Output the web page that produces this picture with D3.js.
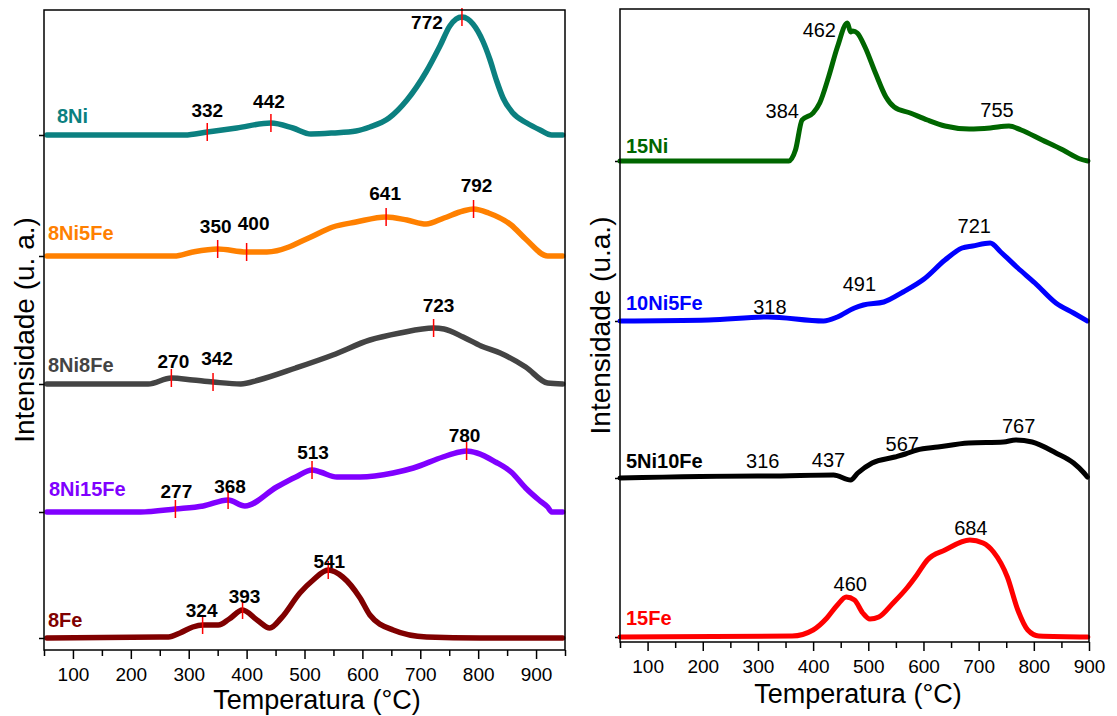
<!DOCTYPE html>
<html>
<head>
<meta charset="utf-8">
<script src="https://cdn.jsdelivr.net/npm/d3@7"></script>
<style>
body { margin: 0; background: #fff; }
text { font-family: "Liberation Sans", Arial, sans-serif; }
</style>
</head>
<body>
<svg id="chart" width="1117" height="716"></svg>
<script>
// TPR profiles, intensity in a.u. above each curve's own baseline
var tempTicks = [100, 200, 300, 400, 500, 600, 700, 800, 900];

var s8Ni = [[55,0],[200,0],[293,0],[332,0.3],[383,0.7],[442,1.2],[480,0.7],[511,0.1],[549,0.2],[589,0.4],[613,0.8],[646,1.7],[677,3.5],[710,6.3],[734,8.9],[751,10.9],[762,11.6],[772,11.8],[782,11.6],[791,11.1],[808,9.4],[820,7.6],[832,5.4],[843,3.7],[860,2.2],[884,1.2],[907,0.5],[927,0],[946,0]];
var s8Ni5Fe = [[55,0],[275,0],[307,0.4],[350,0.7],[400,0.4],[435,0.4],[473,0.9],[492,1.4],[511,1.9],[549,2.9],[589,3.4],[641,3.9],[677,3.6],[710,3.2],[741,3.8],[774,4.5],[792,4.7],[818,4.3],[857,3.1],[882,1.7],[920,0],[946,0]];
var s8Ni8Fe = [[55,0],[230,0],[270,0.6],[307,0.4],[342,0.2],[390,0],[421,0.4],[485,1.6],[549,2.9],[613,4.4],[665,5.1],[723,5.6],[741,5.5],[774,4.7],[805,3.8],[838,3.1],[882,1.7],[920,0.1],[946,0]];
var s8Ni15Fe = [[55,0],[217,0],[277,0.3],[325,0.6],[368,1.2],[397,0.6],[452,2.5],[485,3.5],[513,4.2],[527,4.0],[556,3.5],[596,3.5],[653,3.9],[688,4.4],[739,5.5],[768,6.0],[780,6.1],[798,5.9],[830,5.0],[857,4.0],[882,2.4],[905,1.2],[920,0.5],[927,0],[946,0]];
var s8Fe = [[55,0],[250,0.1],[265,0.1],[285,0.5],[307,1.1],[324,1.3],[351,1.3],[370,1.9],[393,2.8],[418,1.8],[440,1.0],[460,2.0],[492,4.5],[515,5.8],[541,6.8],[566,6.1],[596,4.0],[613,2.3],[653,0.8],[711,0.1],[803,0],[946,0]];

var s15Ni = [[50,0],[356,0],[368,1.1],[380,4.1],[400,4.8],[412,5.8],[428,8.4],[444,11.4],[462,13.8],[468,12.9],[472,13.0],[480,12.8],[494,11.4],[513,8.8],[532,6.4],[547,5.4],[576,4.8],[607,4.1],[639,3.5],[683,3.2],[721,3.3],[755,3.5],[777,3.1],[815,2.1],[853,1.1],[884,0.2],[898,0]];
var s10Ni5Fe = [[50,0],[211,0.1],[318,0.4],[419,0],[444,0.4],[475,1.3],[491,1.6],[528,1.9],[563,2.9],[601,4.2],[639,6.1],[670,7.3],[689,7.5],[721,7.8],[740,6.9],[771,5.3],[802,3.8],[840,1.8],[872,0.8],[897,0]];
var s5Ni10Fe = [[50,0],[299,0.2],[316,0.2],[437,0.3],[468,-0.2],[481,0.5],[507,1.5],[548,2.1],[567,2.4],[588,2.8],[626,3.1],[682,3.5],[745,3.6],[767,3.8],[797,3.6],[840,2.5],[872,1.5],[891,0.5],[897,0.1]];
var s15Fe = [[50,0],[362,0.1],[400,0.7],[425,1.9],[444,3.2],[460,4.0],[475,3.7],[490,2.4],[503,1.8],[519,2.0],[545,3.4],[570,4.9],[588,6.2],[607,7.7],[639,8.7],[684,9.7],[708,9.4],[727,8.5],[752,6.0],[771,2.7],[789,0.7],[809,0.1],[898,0]];

var leftNames = ["8Ni", "8Ni5Fe", "8Ni8Fe", "8Ni15Fe", "8Fe"];
var leftOffsets = [51.5, 39.4, 26.6, 13.8, 1.2];
var leftPeaks = [[332, 442, 772], [350, 400, 641, 792], [270, 342, 723], [277, 368, 513, 780], [324, 393, 541]];

var rightNames = ["15Ni", "10Ni5Fe", "5Ni10Fe", "15Fe"];
var rightOffsets = [48.1, 32.1, 16.4, 0.5];
var rightPeaks = [[384, 462, 755], [318, 491, 721], [316, 437, 567, 767], [460, 684]];

// label nudges [dx, dy] relative to the peak point on the curve
var leftNudges = [
	[[0,-15],[-2,-15],[-35,12]],
	[[-2,-16],[7,-22],[-1,-17],[3,-17]],
	[[2,-10],[4,-17],[5,-16]],
	[[1,-11],[2,-7],[1,-11],[-2,-9]],
	[[-1,-8],[2,-7],[1,-2]]
];
var rightNudges = [
	[[-22,-1],[-28,14],[-12,-9]],
	[[2,-3],[-4,-14],[-16,-10]],
	[[-4,-8],[-5,-8],[-3,-3],[3,-7]],
	[[4,-6],[1,-5]]
];

var svg = d3.select("#chart");

function valueAt(s, t) {
	var i = d3.bisector(function (d) { return d[0]; }).left(s, t);
	if (i <= 0) return s[0][1];
	if (i >= s.length) return s[s.length - 1][1];
	var a = s[i - 1], b = s[i];
	return a[1] + (b[1] - a[1]) * (t - a[0]) / (b[0] - a[0]);
}

function drawPanel(p) {
	var x = d3.scaleLinear().domain(p.xDomain).range([p.left, p.right]);
	var y = d3.scaleLinear().domain(p.yDomain).range([p.bottom, p.top]);
	var g = svg.append("g");

	// x axis, major + minor ticks
	var minors = d3.range(p.xDomain[0], p.xDomain[1] + 1, 100);
	g.append("g")
		.attr("transform", "translate(0," + p.bottom + ")")
		.call(d3.axisBottom(x).tickValues(minors).tickSize(6).tickFormat(""))
		.call(function (a) { a.select(".domain").remove(); })
		.selectAll("line").attr("stroke", "#000").attr("stroke-width", 1.5);
	var ax = g.append("g")
		.attr("transform", "translate(0," + p.bottom + ")")
		.call(d3.axisBottom(x).tickValues(tempTicks).tickSize(9).tickPadding(9).tickFormat(d3.format("d")));
	ax.select(".domain").remove();
	ax.selectAll("line").attr("stroke", "#000").attr("stroke-width", 1.5);
	ax.selectAll("text").attr("font-size", 19).attr("fill", "#000")
		.style("font-family", "'Liberation Sans', Arial, sans-serif");

	// small y ticks at each baseline
	g.append("g")
		.attr("transform", "translate(" + p.left + ",0)")
		.call(d3.axisLeft(y).tickValues(p.offsets).tickSize(5).tickFormat(""))
		.call(function (a) { a.select(".domain").remove(); })
		.selectAll("line").attr("stroke", "#000").attr("stroke-width", 1.5);

	// curves
	var line = d3.line().curve(d3.curveMonotoneX);
	p.series.forEach(function (s, i) {
		line.x(function (d) { return x(d[0]); })
			.y(function (d) { return y(d[1] + p.offsets[i]); });
		g.append("path")
			.attr("d", line(s))
			.attr("fill", "none")
			.attr("stroke", p.colors[i])
			.attr("stroke-width", p.lineWidth)
			.attr("stroke-linejoin", "round")
			.attr("stroke-linecap", "round");

		// series name
		g.append("text")
			.attr("x", p.left + p.nameDx[i])
			.attr("y", y(p.offsets[i]) + p.nameDy[i])
			.attr("font-size", 20)
			.attr("font-weight", "bold")
			.attr("fill", p.colors[i])
			.text(p.names[i]);

		// peaks
		p.peaks[i].forEach(function (t, j) {
			var py = y(valueAt(s, t) + p.offsets[i]);
			if (p.markers) {
				g.append("line")
					.attr("x1", x(t)).attr("x2", x(t))
					.attr("y1", py - 9).attr("y2", py + 9)
					.attr("stroke", "#ff0000")
					.attr("stroke-width", 1.5);
			}
			var n = p.nudges[i][j];
			g.append("text")
				.attr("x", x(t) + n[0])
				.attr("y", py + n[1])
				.attr("text-anchor", "middle")
				.attr("font-size", p.peakFont)
				.attr("font-weight", p.peakWeight)
				.attr("fill", "#000")
				.text(t);
		});
	});

	// frame
	g.append("rect")
		.attr("x", p.left).attr("y", p.top)
		.attr("width", p.right - p.left).attr("height", p.bottom - p.top)
		.attr("fill", "none").attr("stroke", "#000").attr("stroke-width", 1.5);

	// titles
	g.append("text")
		.attr("x", p.xTitleX).attr("y", p.xTitleY)
		.attr("text-anchor", "middle")
		.attr("font-size", 27)
		.attr("fill", "#000")
		.text("Temperatura (°C)");
	g.append("text")
		.attr("transform", "translate(" + p.yTitleX + "," + (p.top + p.bottom) / 2 + ") rotate(-90)")
		.attr("text-anchor", "middle")
		.attr("font-size", 28)
		.attr("fill", "#000")
		.text(p.yTitle);
}

drawPanel({
	left: 44, right: 565, top: 10, bottom: 650,
	xDomain: [50, 950], yDomain: [0, 64],
	series: [s8Ni, s8Ni5Fe, s8Ni8Fe, s8Ni15Fe, s8Fe],
	names: leftNames, offsets: leftOffsets, peaks: leftPeaks, nudges: leftNudges,
	colors: ["#0b8080", "#ff8000", "#444444", "#8000ff", "#800000"],
	nameDx: [13, 4, 4, 5, 4], nameDy: [-12, -16, -12, -16, -11],
	lineWidth: 5.5, markers: true, peakFont: 19, peakWeight: "bold",
	xTitleX: 317, xTitleY: 709, yTitleX: 34, yTitle: "Intensidade (u. a.)"
});

drawPanel({
	left: 620, right: 1089, top: 9, bottom: 642,
	xDomain: [50, 900], yDomain: [0, 63.3],
	series: [s15Ni, s10Ni5Fe, s5Ni10Fe, s15Fe],
	names: rightNames, offsets: rightOffsets, peaks: rightPeaks, nudges: rightNudges,
	colors: ["#006600", "#0000ff", "#000000", "#ff0000"],
	nameDx: [6, 6, 6, 6], nameDy: [-8, -11, -10, -12],
	lineWidth: 5, markers: false, peakFont: 20, peakWeight: "normal",
	xTitleX: 858, xTitleY: 703, yTitleX: 610, yTitle: "Intensidade (u.a.)"
});
</script>
</body>
</html>
